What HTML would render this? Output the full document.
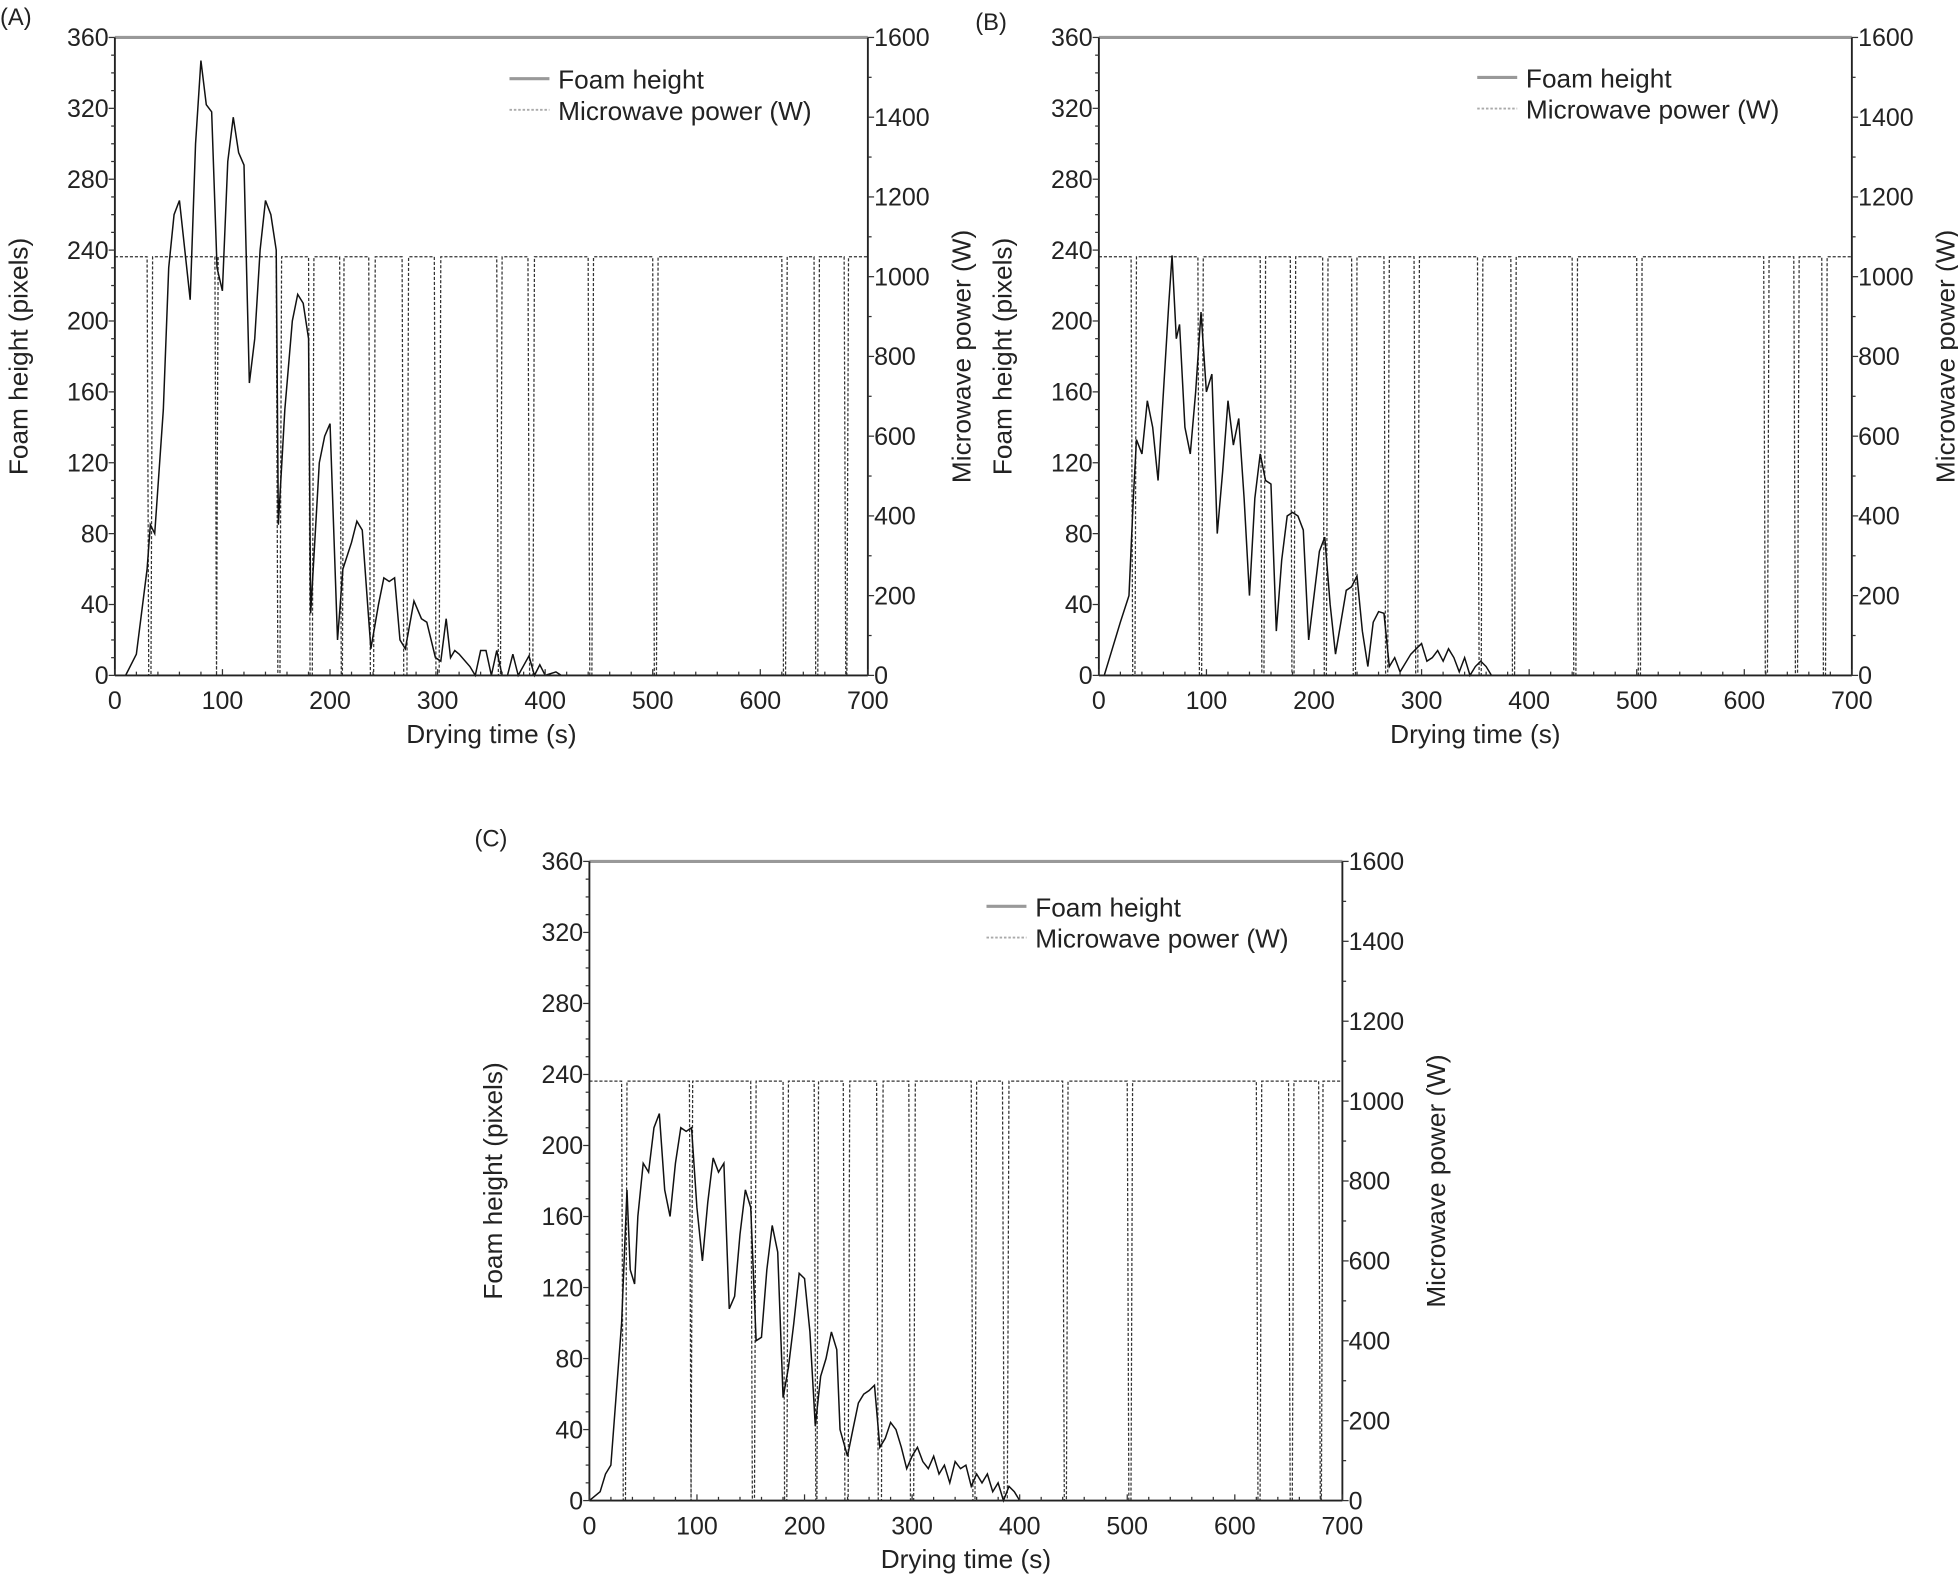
<!DOCTYPE html>
<html><head><meta charset="utf-8">
<style>
html,body{margin:0;padding:0;background:#fff;}
svg{display:block;}
text{font-family:"Liberation Sans",sans-serif;fill:#222;}
</style></head>
<body>
<svg id="s" width="1958" height="1578" viewBox="0 0 1568 1264" preserveAspectRatio="none" xmlns="http://www.w3.org/2000/svg">
<text x="0" y="20" font-size="19">(A)</text>
<text x="781" y="24" font-size="19">(B)</text>
<text x="380" y="678" font-size="19">(C)</text>
</svg>
<script>
const NS="http://www.w3.org/2000/svg";
const svg=document.getElementById('s');
function el(t,a,txt){const e=document.createElementNS(NS,t);for(const k in a)e.setAttribute(k,a[k]);if(txt!==undefined)e.textContent=txt;svg.appendChild(e);return e;}
function panel(p){
 const {x0,x1,yT,yB}=p;
 const X=t=>x0+(x1-x0)*t/700, Y=v=>yB-(yB-yT)*v/360, YW=w=>yB-(yB-yT)*w/1600;
 let pts=[[0,1050]];
 p.pw.forEach(([a,b])=>{pts.push([a,1050],[a+1.5,0],[b-1.5,0],[b,1050]);});
 pts.push([700,1050]);
 el('polyline',{points:pts.map(q=>X(q[0]).toFixed(1)+','+YW(q[1]).toFixed(1)).join(' '),fill:'none',stroke:'#333','stroke-width':1,'stroke-dasharray':'2.5,1.5'});
 el('polyline',{points:p.f.map(q=>X(q[0]).toFixed(1)+','+Y(q[1]).toFixed(1)).join(' '),fill:'none',stroke:'#111','stroke-width':1.2});
 el('line',{x1:x0,y1:yT,x2:x1,y2:yT,stroke:'#999','stroke-width':2.5});
 el('line',{x1:x0,y1:yT,x2:x0,y2:yB,stroke:'#222','stroke-width':1.5});
 el('line',{x1:x1,y1:yT,x2:x1,y2:yB,stroke:'#222','stroke-width':1.5});
 el('line',{x1:x0,y1:yB,x2:x1,y2:yB,stroke:'#222','stroke-width':1.5});
 for(let v=0;v<=360;v+=10){const y=Y(v),maj=v%40==0;el('line',{x1:x0-(maj?5:3),y1:y,x2:x0,y2:y,stroke:'#333','stroke-width':1});
  if(maj)el('text',{x:x0-5,y:y+7,'font-size':20,'text-anchor':'end'},v);}
 for(let w=0;w<=1600;w+=100){const y=YW(w),maj=w%200==0;el('line',{x1:x1,y1:y,x2:x1+(maj?5:3),y2:y,stroke:'#333','stroke-width':1});
  if(maj)el('text',{x:x1+5,y:y+7,'font-size':20},w);}
 for(let t=0;t<=700;t+=20){const x=X(t),maj=t%100==0;el('line',{x1:x,y1:yB,x2:x,y2:yB-(maj?5:3),stroke:'#333','stroke-width':1});
  if(maj)el('text',{x:x,y:yB+27,'font-size':20,'text-anchor':'middle'},t);}
 const cy=(yT+yB)/2;
 el('text',{x:0,y:0,'font-size':21,'text-anchor':'middle',transform:`translate(${x0-70},${cy}) rotate(-90)`},'Foam height (pixels)');
 el('text',{x:0,y:0,'font-size':21,'text-anchor':'middle',transform:`translate(${x1+82},${cy}) rotate(-90)`},'Microwave power (W)');
 el('text',{x:(x0+x1)/2,y:yB+54,'font-size':21,'text-anchor':'middle'},'Drying time (s)');
 const [lx,ly]=p.lg;
 el('line',{x1:lx,y1:ly,x2:lx+32,y2:ly,stroke:'#999','stroke-width':2.5});
 el('text',{x:lx+39,y:ly+8,'font-size':21},'Foam height');
 el('line',{x1:lx,y1:ly+25,x2:lx+32,y2:ly+25,stroke:'#aaa','stroke-width':1.5,'stroke-dasharray':'2,1.5'});
 el('text',{x:lx+39,y:ly+33,'font-size':21},'Microwave power (W)');
}
const pwA=[[30,35],[93,96],[150,155],[180,185],[209,213],[236,242],[267,273],[297,303],[355,360],[384,390],[440,445],[500,505],[620,625],[650,655],[678,682]];
const pwB=[[30,35],[92,97],[150,155],[178,183],[208,213],[235,240],[265,270],[293,298],[352,357],[383,388],[440,445],[500,505],[618,623],[646,651],[672,677]];
const fA=[[10,0],[20,12],[30,60],[33,85],[37,80],[45,150],[50,230],[55,260],[60,268],[65,240],[70,212],[75,300],[80,347],[85,322],[90,318],[95,230],[100,217],[105,290],[110,315],[115,295],[120,288],[125,165],[130,190],[135,240],[140,268],[145,260],[150,240],[152,85],[158,150],[165,200],[170,215],[175,210],[180,190],[182,35],[190,120],[195,135],[200,142],[207,20],[212,60],[220,75],[225,87],[230,82],[235,40],[238,15],[245,40],[250,55],[255,53],[260,55],[265,20],[270,15],[278,42],[285,32],[290,30],[298,10],[303,8],[308,32],[312,10],[316,14],[320,12],[330,5],[335,0],[340,14],[345,14],[350,0],[355,14],[360,0],[365,0],[370,12],[375,0],[385,11],[390,0],[395,6],[400,0],[410,2],[415,0]];
const fB=[[5,0],[10,10],[20,30],[28,45],[32,100],[35,133],[40,125],[45,155],[50,140],[55,110],[60,160],[65,210],[68,237],[72,190],[75,198],[80,140],[85,125],[90,160],[95,205],[100,160],[105,170],[110,80],[115,115],[120,155],[125,130],[130,145],[135,100],[140,45],[145,100],[150,125],[155,110],[160,108],[165,25],[170,65],[175,90],[180,92],[185,90],[190,82],[195,20],[200,45],[205,70],[210,78],[215,40],[220,12],[225,30],[230,48],[235,50],[240,56],[245,25],[250,5],[255,30],[260,36],[265,35],[270,5],[275,10],[280,2],[290,12],[295,15],[300,18],[305,8],[310,10],[315,14],[320,8],[325,15],[330,10],[335,2],[340,10],[345,0],[350,5],[355,8],[360,5],[365,0]];
const fC=[[0,0],[10,5],[15,15],[20,20],[25,60],[30,100],[35,175],[38,130],[42,122],[45,160],[50,190],[55,185],[60,210],[65,218],[70,175],[75,160],[80,190],[85,210],[90,208],[95,210],[100,165],[105,135],[110,168],[115,193],[120,185],[125,190],[130,108],[135,115],[140,150],[145,175],[150,165],[155,90],[160,92],[165,130],[170,155],[175,140],[180,58],[185,75],[190,100],[195,128],[200,125],[205,95],[210,42],[215,70],[220,80],[225,95],[230,85],[233,40],[240,25],[245,40],[250,55],[255,60],[260,62],[265,65],[270,30],[275,35],[280,44],[285,40],[290,30],[295,18],[300,25],[305,30],[310,22],[315,18],[320,25],[325,15],[330,20],[335,10],[340,22],[345,18],[350,20],[355,8],[360,15],[365,10],[370,15],[375,5],[380,10],[385,0],[390,8],[395,5],[400,0]];
panel({x0:92,x1:695,yT:30,yB:541,pw:pwA,f:fA,lg:[408,63]});
panel({x0:880,x1:1483,yT:30,yB:541,pw:pwB,f:fB,lg:[1183,62]});
panel({x0:472,x1:1075,yT:690,yB:1202,pw:pwA,f:fC,lg:[790,726]});
</script>
</body></html>
